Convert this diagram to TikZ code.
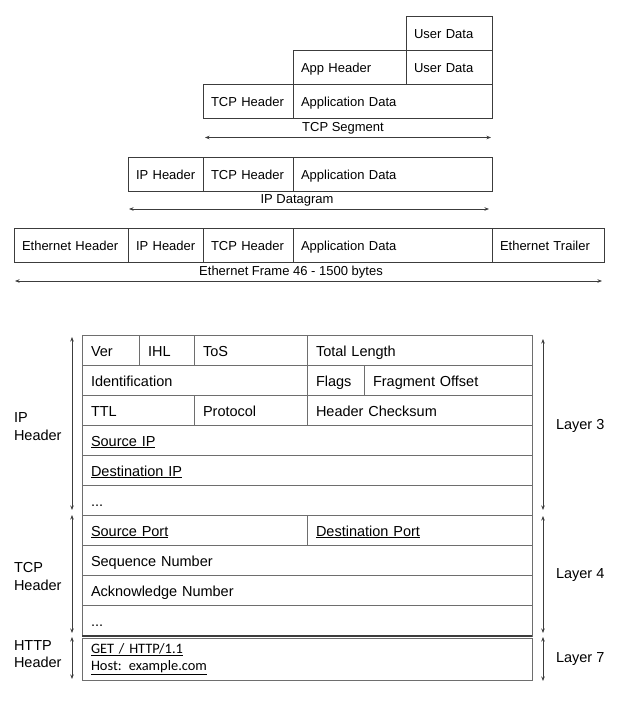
\documentclass[tikz,border=0pt]{standalone}
\usepackage{fontspec}
\setmainfont{Liberation Sans}
\newfontfamily\carlito{Carlito}
\usetikzlibrary{arrows.meta}

\definecolor{boxline}{HTML}{3C3C3C}
\definecolor{rowline}{HTML}{6E6E6E}

\begin{document}
\begin{tikzpicture}[x=1pt, y=-1pt,
	every node/.style={inner sep=0pt, outer sep=0pt},
	unit/.style={draw=boxline, line width=0.8pt, minimum height=34pt, inner xsep=8pt,
		text width=#1, align=left, text height=11pt, text depth=0pt, font=\fontsize{13}{15}\selectfont},
	field/.style={draw=rowline, line width=0.8pt, minimum height=30pt, inner xsep=9pt,
		text width=#1, align=left, text height=12pt, text depth=0pt, font=\fontsize{14.5}{17}\selectfont},
	caption/.style={text height=9.3pt, text depth=0pt, font=\fontsize{13}{15}\selectfont},
	sidelabel/.style={anchor=west, align=left, font=\fontsize{14.5}{17.3}\selectfont},
	layer/.style={anchor=west, text height=10.4pt, text depth=0pt, font=\fontsize{14.5}{17}\selectfont},
	span/.style={{Stealth[length=4.5pt,width=3.5pt]}-{Stealth[length=4.5pt,width=3.5pt]}, line width=0.7pt, draw=boxline}]

	\useasboundingbox (0,0) rectangle (624,702);

	% encapsulation
	\node[unit=70pt] (user1) at (449, 33) {User Data};

	\node[unit=97pt] (apph) at (349.5, 67) {App Header};
	\node[unit=70pt] (user2) at (449, 67) {User Data};

	\node[unit=74pt] (tcph1) at (248, 101) {TCP~Header};
	\node[unit=183pt] (appd1) at (392.5, 101) {Application Data};
	\node[caption] (seg) at (343, 126.5) {TCP Segment};
	\coordinate (segl) at (205, 137.5);
	\coordinate (segr) at (491, 137.5);

	\node[unit=59pt] (iph2) at (165.5, 174) {IP~Header};
	\node[unit=74pt] (tcph2) at (248, 174) {TCP~Header};
	\node[unit=183pt] (appd2) at (392.5, 174) {Application Data};
	\node[caption] (dgram) at (297, 198.5) {IP Datagram};
	\coordinate (dgl) at (129, 209);
	\coordinate (dgr) at (489, 209);

	\node[unit=98pt] (ethh) at (71, 245) {Ethernet~Header};
	\node[unit=59pt] (iph3) at (165.5, 245) {IP~Header};
	\node[unit=74pt] (tcph3) at (248, 245) {TCP~Header};
	\node[unit=183pt] (appd3) at (392.5, 245) {Application Data};
	\node[unit=96pt] (etht) at (548, 245) {Ethernet~Trailer};
	\node[caption] (frame) at (291, 271) {Ethernet Frame 46 - 1500 bytes};
	\coordinate (frl) at (15, 281);
	\coordinate (frr) at (602, 281);

	\draw[span] (segl) -- (segr);
	\draw[span] (dgl) -- (dgr);
	\draw[span] (frl) -- (frr);

	% header fields
	\node[field=39pt] (ver) at (110.5, 350) {Ver};
	\node[field=37pt] (ihl) at (166.5, 350) {IHL};
	\node[field=95pt] (tos) at (250.5, 350) {ToS};
	\node[field=207pt] (totlen) at (419.5, 350) {Total Length};

	\node[field=207pt] (ident) at (194.5, 380) {Identification};
	\node[field=39pt] (flags) at (335.5, 380) {Flags};
	\node[field=150pt] (fragoff) at (448, 380) {Fragment Offset};

	\node[field=94pt] (ttl) at (138, 410) {TTL};
	\node[field=95pt] (proto) at (250.5, 410) {Protocol};
	\node[field=207pt] (chksum) at (419.5, 410) {Header Checksum};

	\node[field=432pt] (srcip) at (307, 440) {\underline{Source IP}};
	\node[field=432pt] (dstip) at (307, 470) {\underline{Destination IP}};
	\node[field=432pt] (ipmore) at (307, 500) {...};

	\node[field=207pt] (srcport) at (194.5, 530) {\underline{Source Port}};
	\node[field=207pt] (dstport) at (419.5, 530) {\underline{Destination Port}};
	\node[field=432pt] (seqnum) at (307, 560) {Sequence Number};
	\node[field=432pt] (acknum) at (307, 590) {Acknowledge Number};
	\node[field=432pt, minimum height=31pt] (tcpmore) at (307, 620.5) {...};

	\node[draw=rowline, line width=0.8pt, minimum height=42pt, minimum width=450pt, inner xsep=9pt,
		text width=432pt, align=left, yshift=-2pt, font=\carlito\fontsize{14.4}{17}\selectfont]
		(http) at (307, 657) {\underline{GET / HTTP/1.1}\\\underline{Host: example.com}};
	\draw[boxline, line width=1.8pt] (tcpmore.south west) -- (tcpmore.south east);

	% side labels
	\node[sidelabel] (iplbl) at (14, 426.5) {IP\\Header};
	\node[sidelabel] (tcplbl) at (14, 576.5) {TCP\\Header};
	\node[sidelabel] (httplbl) at (14, 654) {HTTP\\Header};

	\node[layer] (l3) at (556, 424) {Layer 3};
	\node[layer] (l4) at (556, 573.5) {Layer 4};
	\node[layer] (l7) at (556, 657) {Layer 7};

	\coordinate (iptop) at (72, 337);
	\coordinate (ipbot) at (72, 510);
	\coordinate (tcptop) at (72, 515);
	\coordinate (tcpbot) at (72, 633);
	\coordinate (httptop) at (72, 637);
	\coordinate (httpbot) at (72, 679);
	\coordinate (l3top) at (543, 339);
	\coordinate (l3bot) at (543, 510);
	\coordinate (l4top) at (543, 516);
	\coordinate (l4bot) at (543, 633);
	\coordinate (l7top) at (543, 637);
	\coordinate (l7bot) at (543, 681);

	\draw[span] (iptop) -- (ipbot);
	\draw[span] (tcptop) -- (tcpbot);
	\draw[span] (httptop) -- (httpbot);
	\draw[span] (l3top) -- (l3bot);
	\draw[span] (l4top) -- (l4bot);
	\draw[span] (l7top) -- (l7bot);
\end{tikzpicture}
\end{document}
